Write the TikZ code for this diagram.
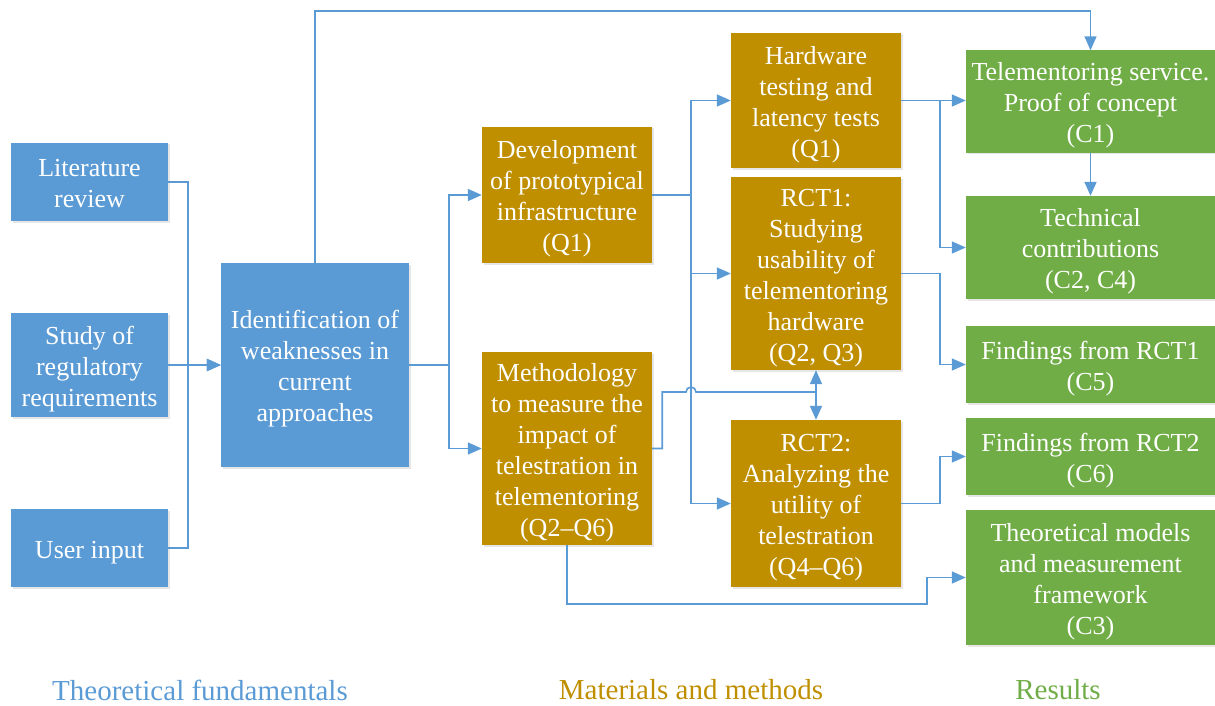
\documentclass[tikz,border=0pt]{standalone}
\usepackage{fontspec}
\setmainfont{Liberation Serif}
\usetikzlibrary{arrows.meta,shadows}
\definecolor{cblue}{HTML}{5B9BD5}
\definecolor{cgold}{HTML}{BF8F00}
\definecolor{cgreen}{HTML}{70AD47}
% fixed line box at the top and bottom of each text block
\newcommand\boxtop{\rule{0pt}{26.5pt}}
\newcommand\boxbot{\rule[-6pt]{0pt}{6pt}}
\begin{document}
\begin{tikzpicture}[x=1pt,y=-1pt,
  box/.style={rectangle, draw=none, text=white, align=center, inner sep=0pt,
    font=\fontsize{26}{31}\selectfont,
    drop shadow={shadow xshift=1.5pt, shadow yshift=-1.5pt, opacity=0.2, fill=gray}},
  tbox/.style={box, fill=cblue},
  mbox/.style={box, fill=cgold},
  rbox/.style={box, fill=cgreen},
  conn/.style={draw=cblue, line width=1.6pt},
  tip/.tip={Triangle[length=14pt,width=12pt]},
  arr/.style={conn, -tip},
  darr/.style={conn, tip-tip},
  caption/.style={font=\fontsize{29}{34}\selectfont}]
\useasboundingbox (0,0) rectangle (1215,706);

% theoretical fundamentals
\node[tbox, minimum width=157pt, minimum height=78pt] (lit) at (89.5,182) {\boxtop Literature\\review\boxbot};
\node[tbox, minimum width=157pt, minimum height=104pt] (study) at (89.5,365) {\boxtop Study of\\regulatory\\requirements\boxbot};
\node[tbox, minimum width=157pt, minimum height=78pt] (user) at (89.5,548) {\boxtop User input\boxbot};
\node[tbox, minimum width=188pt, minimum height=204pt] (ident) at (315,365) {\boxtop Identification of\\weaknesses in\\current\\approaches\boxbot};

% materials and methods
\node[mbox, minimum width=170pt, minimum height=136pt] (dev) at (567,195) {\boxtop Development\\of prototypical\\infrastructure\\(Q1)\boxbot};
\node[mbox, minimum width=170pt, minimum height=193pt] (meth) at (567,448.5) {\boxtop Methodology\\to measure the\\impact of\\telestration in\\telementoring\\(Q2--Q6)\boxbot};
\node[mbox, minimum width=170pt, minimum height=135pt] (hw) at (816,100.5) {\boxtop Hardware\\testing and\\latency tests\\(Q1)\boxbot};
\node[mbox, minimum width=170pt, minimum height=193pt] (rct1) at (816,273.5) {\boxtop RCT1:\\Studying\\usability of\\telementoring\\hardware\\(Q2, Q3)\boxbot};
\node[mbox, minimum width=170pt, minimum height=167pt] (rct2) at (816,503.5) {\boxtop RCT2:\\Analyzing the\\utility of\\telestration\\(Q4--Q6)\boxbot};

% results
\node[rbox, minimum width=249pt, minimum height=102pt] (tel) at (1090.5,101.5) {\boxtop Telementoring service.\\Proof of concept\\(C1)\boxbot};
\node[rbox, minimum width=249pt, minimum height=103pt] (tech) at (1090.5,247.5) {\boxtop Technical\\contributions\\(C2, C4)\boxbot};
\node[rbox, minimum width=249pt, minimum height=77pt] (f1) at (1090.5,364.5) {\boxtop Findings from RCT1\\(C5)\boxbot};
\node[rbox, minimum width=249pt, minimum height=77pt] (f2) at (1090.5,456.5) {\boxtop Findings from RCT2\\(C6)\boxbot};
\node[rbox, minimum width=249pt, minimum height=135pt] (th) at (1090.5,577.5) {\boxtop Theoretical models\\and measurement\\framework\\(C3)\boxbot};

% column captions
\node[caption, text=cblue] (cap1) at (200,690) {Theoretical fundamentals};
\node[caption, text=cgold] (cap2) at (691,690) {Materials and methods};
\node[caption, text=cgreen] (cap3) at (1058,690) {Results};

% bus lines
\coordinate (b1) at (188,365);
\coordinate (b2) at (449,365);
\coordinate (b3) at (691,195);
\coordinate (b4) at (940,0);
\coordinate (top) at (700,11);
\coordinate (mid) at (816,392);
\coordinate (low) at (927,604);

% inputs into the identification step
\draw[arr] (lit.east) -| (b1) -- (ident.west);
\draw[arr] (user.east) -| (b1) -- (ident.west);
\draw[arr] (study.east) -- (ident.west);

% identification to the results and methods
\draw[arr] (ident.north) |- (top) -| (tel.north);
\draw[arr] (ident.east) -- (b2) |- (dev.west);
\draw[arr] (ident.east) -- (b2) |- (meth.west);

% prototypical infrastructure to the studies
\draw[arr] (dev.east) -- (b3) |- (hw.west);
\draw[arr] (dev.east) -- (b3) |- (rct1.west);
\draw[arr] (dev.east) -- (b3) |- (rct2.west);

% methodology to both RCTs, hopping over the bus
\draw[conn] (meth.east) -- ++(10,0) |- (686,392) arc[start angle=180, end angle=0, radius=5pt] -- (mid);
\draw[darr] (rct1.south) -- (rct2.north);
\draw[arr] (meth.south) |- (low) |- (th.west);

% studies to results
\draw[arr] (hw.east) -- (hw.east -| tel.west);
\draw[arr] (hw.east) -- (hw.east -| b4) |- (tech.west);
\draw[arr] (rct1.east) -- (rct1.east -| b4) |- (f1.west);
\draw[arr] (rct2.east) -- (rct2.east -| b4) |- (f2.west);
\draw[arr] (tel.south) -- (tech.north);
\end{tikzpicture}
\end{document}
